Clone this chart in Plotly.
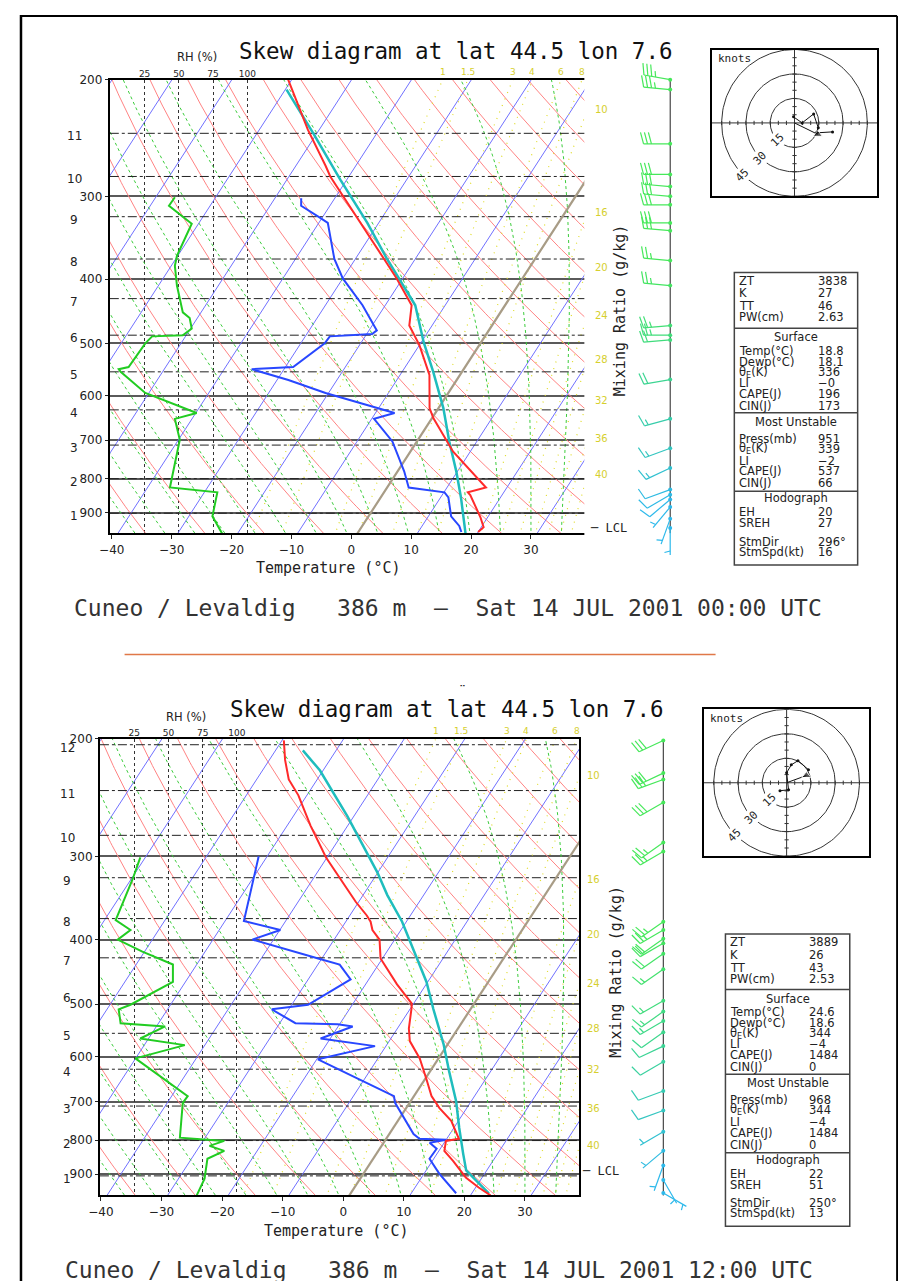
import numpy as np
import plotly.graph_objects as go

# The page body keeps its default 8 px margin, so the figure is drawn 8 px in from the corner.
OFF = 8
W, H = 906 - OFF, 1281 - OFF

# ---------------- text ----------------
TITLE = "Skew diagram at lat 44.5 lon 7.6"
FOOTER_00 = "Cuneo / Levaldig   386 m  –  Sat 14 JUL 2001 00:00 UTC"
FOOTER_12 = "Cuneo / Levaldig   386 m  –  Sat 14 JUL 2001 12:00 UTC"
X_TITLE = "Temperature (°C)"
MR_TITLE = "Mixing Ratio (g/kg)"
RH_TITLE = "RH (%)"

# ---------------- reference lines / ticks ----------------
P_TICKS = [200, 300, 400, 500, 600, 700, 800, 900]
T_TICKS = [-40, -30, -20, -10, 0, 10, 20, 30]
RH_TICKS = [25, 50, 75, 100]
MIX_RATIOS = [1, 1.5, 3, 4, 6, 8, 10, 16, 20, 24, 28, 32, 36, 40]
THETA_K = list(range(220, 481, 10))
THETA_W = list(range(-40, 41, 5))
ISOTHERMS = [t for t in range(-130, 41, 10) if t != 0]
HODO_RINGS = [15, 30, 45]

# ---------------- 00 UTC sounding ----------------
T_P_00 = [963, 947, 915, 847, 839, 825, 728, 648, 626, 558, 503, 470, 438, 399, 373, 324, 280, 270, 238, 200]
T_00 = [20.0, 20.4, 18.8, 14.7, 14.0, 16.5, 7.1, 0.2, -1.5, -5.1, -10.0, -13.8, -15.6, -21.0, -25.2, -34.0, -43.1, -45.0, -51.9, -60.6]
TD_P_00 = [963, 943, 912, 854, 839, 825, 780, 703, 650, 637, 594, 568, 547, 543, 500, 488, 484, 478, 438, 399, 373, 329, 323, 310, 302]
TD_00 = [17.2, 16.2, 13.8, 11.3, 10.1, 3.6, 1.1, -4.1, -9.6, -6.8, -20.5, -28.1, -35.4, -28.7, -26.0, -25.9, -19.1, -18.7, -23.8, -30.0, -33.5, -38.5, -40.4, -44.8, -45.6]
PC_P_00 = [969, 915, 854, 780, 703, 626, 552, 498, 438, 373, 329, 283, 241, 207]
PC_00 = [18.1, 16.0, 13.4, 9.8, 5.4, 0.8, -4.8, -9.6, -15.0, -24.7, -31.9, -41.1, -50.6, -59.8]
RH_P_00 = [969, 912, 839, 825, 699, 650, 637, 594, 552, 547, 543, 500, 488, 486, 475, 458, 449, 409, 382, 369, 330, 310, 301]
RH_00 = [81.7, 74.5, 78.1, 43.5, 50.7, 47.1, 63.0, 25.5, 7.5, 6.1, 13.3, 25.5, 30.5, 52.9, 59.4, 57.9, 52.9, 48.6, 47.1, 48.6, 59.4, 42.8, 47.1]
HEIGHT_P_00 = [902, 800, 712, 630, 552, 486, 428, 373, 322, 280, 241]
WIND_P_00 = [200, 207, 250, 278, 290, 300, 309, 329, 338, 375, 409, 470, 486, 494, 567, 650, 720, 771, 831, 846, 860, 883, 920, 950]
WIND_DIR_00 = [280, 275, 270, 270, 275, 275, 270, 270, 275, 275, 275, 265, 270, 265, 260, 255, 250, 245, 250, 240, 230, 220, 200, 180]
WIND_SPD_00 = [35, 35, 30, 30, 30, 30, 30, 30, 30, 25, 25, 25, 25, 20, 20, 15, 15, 15, 10, 10, 10, 5, 5, 5]
HODO_U_00 = [-0.6, 4.7, 11.8, 14.7, 13.5, 23.5]
HODO_V_00 = [3.7, 0.0, 5.5, -3.0, -6.1, -5.5]
STORM_00 = (296, 16)
LCL_P_00 = 950
STAT_VALUES_00 = ["3838", "27", "46", "2.63", None, "18.8", "18.1", "336", "−0", "196", "173", None,
                  "951", "339", "−2", "537", "66", None, "20", "27", "296°", "16"]

# ---------------- 12 UTC sounding ----------------
T_P_12 = [968, 942, 910, 859, 830, 802, 796, 748, 716, 687, 646, 603, 568, 544, 508, 499, 467, 436, 427, 400, 387, 376, 368, 351, 325, 301, 270, 243, 230, 215, 201]
T_12 = [23.3, 20.5, 17.3, 13.4, 10.9, 10.1, 12.0, 8.8, 5.5, 2.9, 0.1, -3.1, -6.6, -8.1, -9.8, -10.3, -14.8, -19.1, -20.3, -22.5, -24.7, -25.9, -27.2, -30.5, -35.4, -40.2, -46.1, -51.4, -54.7, -57.4, -59.7]
TD_P_12 = [961, 898, 853, 824, 807, 799, 796, 783, 703, 687, 605, 578, 563, 540, 536, 534, 509, 501, 459, 436, 427, 400, 387, 375, 309, 300]
TD_12 = [17.4, 12.5, 9.3, 9.4, 7.6, 10.0, 5.5, 4.0, -2.4, -3.3, -19.8, -11.8, -21.6, -17.6, -20.3, -27.4, -32.8, -27.3, -23.0, -26.4, -30.6, -43.5, -39.9, -46.9, -50.8, -51.4]
PC_P_12 = [961, 910, 888, 838, 767, 699, 630, 574, 508, 463, 436, 400, 376, 343, 317, 261, 223, 208]
PC_12 = [22.8, 18.5, 16.6, 14.3, 10.9, 7.5, 3.1, -0.7, -6.2, -10.2, -13.2, -17.5, -20.7, -26.0, -30.1, -41.1, -50.5, -55.5]
RH_P_12 = [969, 914, 853, 830, 816, 802, 793, 703, 687, 603, 576, 563, 540, 534, 509, 501, 463, 436, 417, 400, 387, 374, 325, 301]
RH_12 = [70.6, 76.4, 78.5, 90.8, 80.0, 90.8, 58.4, 60.5, 64.1, 25.9, 62.0, 29.5, 47.6, 15.1, 13.7, 22.3, 53.3, 53.3, 31.0, 13.0, 22.3, 11.5, 23.8, 29.5]
HEIGHT_P_12 = [905, 801, 711, 626, 553, 485, 426, 372, 323, 279, 239, 204]
WIND_P_12 = [201, 225, 230, 249, 286, 295, 376, 387, 399, 405, 420, 443, 494, 513, 530, 551, 578, 610, 675, 722, 777, 830, 873, 918, 960]
WIND_DIR_12 = [245, 245, 250, 240, 235, 240, 235, 240, 235, 240, 235, 235, 240, 235, 240, 235, 245, 240, 250, 250, 240, 230, 200, 150, 120]
WIND_SPD_12 = [30, 30, 30, 30, 25, 25, 25, 25, 20, 20, 20, 15, 15, 15, 15, 10, 10, 10, 10, 10, 5, 5, 5, 5, 5]
HODO_U_12 = [-4.1, 1.2, 0.0, 2.9, 7.0, 13.5]
HODO_V_12 = [-4.9, -4.3, 6.1, 11.0, 13.5, 8.0]
STORM_12 = (250, 13)
LCL_P_12 = 891
STAT_VALUES_12 = ["3889", "26", "43", "2.53", None, "24.6", "18.6", "344", "−4", "1484", "0", None,
                  "968", "344", "−4", "1484", "0", None, "22", "51", "250°", "13"]

STAT_LABELS = ["ZT", "K", "TT", "PW(cm)", "Surface", "Temp(°C)", "Dewp(°C)", "θ<sub>E</sub>(K)", "LI",
               "CAPE(J)", "CIN(J)", "Most Unstable", "Press(mb)", "θ<sub>E</sub>(K)", "LI", "CAPE(J)",
               "CIN(J)", "Hodograph", "EH", "SREH", "StmDir", "StmSpd(kt)"]

# ---------------- layout geometry (page pixels) ----------------
ROW_OFFSETS = [8, 21, 34, 45, 65, 79, 90, 100, 111, 122, 134, 150, 167, 177, 189, 200, 212, 227, 241, 252, 271, 281]
SEP_OFFSETS = [56, 141, 220]
BOX_H = 294
K_SKEW = 31.1
HODO_SCALE = 1.64  # px per knot

PANELS = [
    dict(left=99, right=583, top=73, bottom=529, x40=101, ppd=6.07, ppl=289.4, rh0=99.6, rhs=1.388,
         barb_x=667, hodo=(709, 43, 877, 190), box=(732, 267, 857), title=(449, 44), footer=(442, 604),
         xlabel=(321, 564), mrlabel=(617, 305), rhlabel=(187, 50), hlab_x=63),
    dict(left=89, right=575, top=736, bottom=1195, x40=90, ppd=6.14, ppl=291.0, rh0=89, rhs=1.388,
         barb_x=660, hodo=(701, 706, 869, 854), box=(723, 932, 849), title=(440, 706), footer=(433, 1270),
         xlabel=(329, 1231), mrlabel=(612, 970), rhlabel=(176, 714), hlab_x=56),
]
SOUNDINGS = [
    dict(tp=T_P_00, t=T_00, dp=TD_P_00, td=TD_00, pp=PC_P_00, pc=PC_00, rp=RH_P_00, rh=RH_00,
         hp=HEIGHT_P_00, wp=WIND_P_00, wd=WIND_DIR_00, ws=WIND_SPD_00, hu=HODO_U_00, hv=HODO_V_00,
         storm=STORM_00, lcl=LCL_P_00, stats=STAT_VALUES_00, footer=FOOTER_00),
    dict(tp=T_P_12, t=T_12, dp=TD_P_12, td=TD_12, pp=PC_P_12, pc=PC_12, rp=RH_P_12, rh=RH_12,
         hp=HEIGHT_P_12, wp=WIND_P_12, wd=WIND_DIR_12, ws=WIND_SPD_12, hu=HODO_U_12, hv=HODO_V_12,
         storm=STORM_12, lcl=LCL_P_12, stats=STAT_VALUES_12, footer=FOOTER_12),
]

MONO = "DejaVu Sans Mono"
SANS = "DejaVu Sans"


def pxx(x):
    return (x - OFF) / W


def pyy(y):
    return 1 - (y - OFF) / H


def skew(T, p):
    return np.asarray(T, float) + K_SKEW * np.log(1000.0 / np.asarray(p, float))


def sat_vp(tc):
    return 6.112 * np.exp(17.67 * tc / (tc + 243.5))


def dTdp(T, p):
    Rd, Cp, Lv, eps = 287.04, 1005.7, 2.501e6, 0.622
    es = sat_vp(T - 273.15)
    rs = eps * es / (p - es)
    return (Rd * T + Lv * rs) / (Cp + Lv * Lv * rs * eps / (Rd * T * T)) / p


def moist_adiabat(tw, pp):
    T = tw + 273.15
    out = [T]
    for i in range(1, len(pp)):
        p0 = pp[i - 1]
        h = pp[i] - p0
        k1 = dTdp(T, p0)
        k2 = dTdp(T + 0.5 * h * k1, p0 + 0.5 * h)
        k3 = dTdp(T + 0.5 * h * k2, p0 + 0.5 * h)
        k4 = dTdp(T + h * k3, p0 + h)
        T = T + h * (k1 + 2 * k2 + 2 * k3 + k4) / 6
        out.append(T)
    return np.array(out) - 273.15


def mix_T(w, p):
    e = w * np.asarray(p, float) / (622.0 + w)
    l = np.log(e / 6.112)
    return 243.5 * l / (17.67 - l)


def barb_color(p):
    f = float(np.clip((p - 380) / 480.0, 0, 1))
    c0 = np.array([70, 232, 90])
    c1 = np.array([45, 185, 235])
    c = (c0 + f * (c1 - c0)).astype(int)
    return "rgb(%d,%d,%d)" % tuple(c)


def barb_xy(bx, by, d, s, L=27.0, FL=12.0, SP=4.0, ang=75.0):
    th = np.deg2rad(d)
    ux, uy = np.sin(th), np.cos(th)
    a = np.deg2rad(ang)
    fx = ux * np.cos(a) + uy * np.sin(a)
    fy = -ux * np.sin(a) + uy * np.cos(a)
    X = [bx, bx + L * ux, None]
    Y = [by, by + L * uy, None]
    s5 = int(round(s / 5.0)) * 5
    n10 = s5 // 10
    n5 = (s5 % 10) // 5
    pos = L
    for _ in range(n10):
        sx, sy = bx + pos * ux, by + pos * uy
        X += [sx, sx + FL * fx, None]
        Y += [sy, sy + FL * fy, None]
        pos -= SP
    if n5:
        if n10 == 0:
            pos -= SP
        sx, sy = bx + pos * ux, by + pos * uy
        X += [sx, sx + 0.5 * FL * fx, None]
        Y += [sy, sy + 0.5 * FL * fy, None]
    return X, Y


def axname(prefix, k):
    return prefix + ("" if k == 1 else str(k))


def axkey(prefix, k):
    return prefix + "axis" + ("" if k == 1 else str(k))


fig = go.Figure()
ann = []
shp = []
lay = {}
P_LINE = np.geomspace(1000, 185, 160)
P_MOIST = np.linspace(1000, 185, 164)


def txt(x, y, s, size, family=MONO, color="#111", angle=0, xa="center"):
    ann.append(dict(x=pxx(x), y=pyy(y), xref="paper", yref="paper", text=s, showarrow=False,
                    xanchor=xa, yanchor="middle", textangle=angle,
                    font=dict(family=family, size=size, color=color)))


for i, (g, d) in enumerate(zip(PANELS, SOUNDINGS)):
    n = 1 + 4 * i
    xs, ys = axname("x", n), axname("y", n)
    pbot = 200 * np.exp((g["bottom"] - g["top"]) / g["ppl"])
    xmin = (g["left"] - g["x40"]) / g["ppd"] - 40
    xmax = (g["right"] - g["x40"]) / g["ppd"] - 40

    def fam(lines, style, xs=xs, ys=ys):
        X, Y = [], []
        for x, p in lines:
            X += list(x) + [None]
            Y += list(p) + [None]
        fig.add_trace(go.Scatter(x=X, y=Y, mode="lines", line=style, xaxis=xs, yaxis=ys,
                                 hoverinfo="skip", showlegend=False))

    # dry adiabats
    fam([(skew(th * (P_LINE / 1000.0) ** 0.2857 - 273.15, P_LINE), P_LINE) for th in THETA_K],
        dict(color="#ff8383", width=1))
    # isotherms
    fam([(skew(np.full_like(P_LINE, t), P_LINE), P_LINE) for t in ISOTHERMS],
        dict(color="#7070ff", width=1))
    # moist adiabats
    fam([(skew(moist_adiabat(tw, P_MOIST), P_MOIST), P_MOIST) for tw in THETA_W],
        dict(color="#3ccc3c", width=1, dash="3px,3px"))
    # mixing ratio lines
    fam([(skew(mix_T(w, P_LINE), P_LINE), P_LINE) for w in MIX_RATIOS],
        dict(color="#e0dc2a", width=1.2, dash="1px,6px"))
    # height (km) lines
    fam([([xmin, xmax], [p, p]) for p in d["hp"]], dict(color="#222", width=1, dash="dashdot"))
    # 0 C isotherm
    fam([(skew(np.zeros_like(P_LINE), P_LINE), P_LINE)], dict(color="#a89c86", width=2.2))

    # RH profile on overlay axis
    fig.add_trace(go.Scatter(x=d["rh"], y=d["rp"], mode="lines", line=dict(color="#22cc22", width=2),
                             xaxis=axname("x", n + 1), yaxis=ys, hoverinfo="skip"))
    # dewpoint, parcel, temperature
    fig.add_trace(go.Scatter(x=skew(d["td"], d["dp"]), y=d["dp"], mode="lines",
                             line=dict(color="#2847ff", width=2), xaxis=xs, yaxis=ys, hoverinfo="skip"))
    fig.add_trace(go.Scatter(x=skew(d["pc"], d["pp"]), y=d["pp"], mode="lines",
                             line=dict(color="#1fbdbd", width=2.5), xaxis=xs, yaxis=ys, hoverinfo="skip"))
    fig.add_trace(go.Scatter(x=skew(d["t"], d["tp"]), y=d["tp"], mode="lines",
                             line=dict(color="#ff2a2a", width=2), xaxis=xs, yaxis=ys, hoverinfo="skip"))

    tfont = dict(family=SANS, size=12, color="#222")
    lay[axkey("x", n)] = dict(domain=[pxx(g["left"]), pxx(g["right"])], range=[xmin, xmax], anchor=ys,
                              tickvals=T_TICKS, ticks="outside", ticklen=4, tickcolor="#222",
                              showline=True, mirror=True, linecolor="black", linewidth=2,
                              showgrid=False, zeroline=False, tickfont=tfont)
    lay[axkey("y", n)] = dict(domain=[pyy(g["bottom"]), pyy(g["top"])], type="log",
                              range=[np.log10(pbot), np.log10(200)], anchor=xs,
                              tickvals=P_TICKS, ticktext=[str(v) for v in P_TICKS], ticks="outside",
                              ticklen=3, tickcolor="#222", showline=True, mirror=True, linecolor="black",
                              linewidth=2, showgrid=True, gridcolor="#5a5a5a", gridwidth=1.5,
                              zeroline=False, tickfont=tfont)
    rh_min = (g["left"] - g["rh0"]) / g["rhs"]
    rh_max = (g["right"] - g["rh0"]) / g["rhs"]
    lay[axkey("x", n + 1)] = dict(overlaying=xs, anchor=ys, side="top", range=[rh_min, rh_max],
                                  tickvals=RH_TICKS, ticks="", showgrid=True, gridcolor="#333",
                                  griddash="dot", gridwidth=1, showline=False, zeroline=False,
                                  tickfont=dict(family=SANS, size=9, color="#222"))

    # mixing ratio labels
    for w in MIX_RATIOS:
        xtop = float(skew(mix_T(w, 200.0), 200.0))
        if xtop <= xmax:
            ann.append(dict(x=xtop, y=pyy(g["top"] - 8), xref=xs, yref="paper", text=str(w),
                            showarrow=False, font=dict(family=SANS, size=9, color="#d6cf2e"),
                            xanchor="center", yanchor="middle"))
        else:
            lo, hi = 200.0, 1100.0
            for _ in range(60):
                mid = 0.5 * (lo + hi)
                if float(skew(mix_T(w, mid), mid)) > xmax:
                    lo = mid
                else:
                    hi = mid
            ann.append(dict(x=pxx(g["right"] + 6), y=np.log10(0.5 * (lo + hi)), xref="paper", yref=ys,
                            text=str(w), showarrow=False, xanchor="left", yanchor="middle",
                            font=dict(family=SANS, size=10, color="#d6cf2e")))

    # height labels (km)
    for km, p in enumerate(d["hp"], start=1):
        ann.append(dict(x=pxx(g["hlab_x"]), y=np.log10(p), xref="paper", yref=ys, text=str(km),
                        showarrow=False, xanchor="center", yanchor="middle", yshift=-3,
                        font=dict(family=SANS, size=12, color="#222")))
    # LCL
    ann.append(dict(x=pxx(g["right"] + 1), y=np.log10(d["lcl"]), xref="paper", yref=ys, text="─ LCL",
                    showarrow=False, xanchor="left", yanchor="middle",
                    font=dict(family=MONO, size=12, color="#222")))

    txt(g["title"][0], g["title"][1], TITLE, 22.5)
    txt(g["footer"][0], g["footer"][1], d["footer"], 23, color="#333")
    txt(g["xlabel"][0], g["xlabel"][1], X_TITLE, 15, color="#222")
    txt(g["mrlabel"][0], g["mrlabel"][1], MR_TITLE, 15, color="#222", angle=-90)
    txt(g["rhlabel"][0], g["rhlabel"][1], RH_TITLE, 11.5, family=SANS, color="#222")

    # ---- wind barbs ----
    xw, yw = axname("x", n + 2), axname("y", n + 2)
    wy0, wy1 = g["top"] - 25, g["bottom"] + 45
    lay[axkey("x", n + 2)] = dict(domain=[pxx(580), pxx(700)], range=[580, 700], visible=False, anchor=yw)
    lay[axkey("y", n + 2)] = dict(domain=[pyy(wy1), pyy(wy0)], range=[-wy1, -wy0], visible=False, anchor=xw)

    def ybar(p, g=g):
        return -(g["top"] + g["ppl"] * np.log(p / 200.0))

    fig.add_trace(go.Scatter(x=[g["barb_x"], g["barb_x"]], y=[ybar(200.0), ybar(pbot)], mode="lines",
                             line=dict(color="#222", width=1), xaxis=xw, yaxis=yw, hoverinfo="skip"))
    for p, dd, ss in zip(d["wp"], d["wd"], d["ws"]):
        X, Y = barb_xy(g["barb_x"], ybar(p), dd, ss)
        col = barb_color(p)
        fig.add_trace(go.Scatter(x=X, y=Y, mode="lines", line=dict(color=col, width=1.2),
                                 xaxis=xw, yaxis=yw, hoverinfo="skip"))
        fig.add_trace(go.Scatter(x=[g["barb_x"]], y=[ybar(p)], mode="markers",
                                 marker=dict(color=col, size=4), xaxis=xw, yaxis=yw, hoverinfo="skip"))

    # ---- hodograph ----
    xh, yh = axname("x", n + 3), axname("y", n + 3)
    hx0, hy0, hx1, hy1 = g["hodo"]
    RX = (hx1 - hx0) / 2.0 / HODO_SCALE
    RY = (hy1 - hy0) / 2.0 / HODO_SCALE
    lay[axkey("x", n + 3)] = dict(domain=[pxx(hx0), pxx(hx1)], range=[-RX, RX], anchor=yh,
                                  showline=True, mirror=True, linecolor="black", linewidth=2,
                                  showticklabels=False, ticks="", showgrid=False, zeroline=False)
    lay[axkey("y", n + 3)] = dict(domain=[pyy(hy1), pyy(hy0)], range=[-RY, RY], anchor=xh,
                                  showline=True, mirror=True, linecolor="black", linewidth=2,
                                  showticklabels=False, ticks="", showgrid=False, zeroline=False)
    th = np.linspace(0, 2 * np.pi, 181)
    X, Y = [], []
    for r in HODO_RINGS:
        X += list(r * np.cos(th)) + [None]
        Y += list(r * np.sin(th)) + [None]
    X += [-RX, RX, None, 0, 0, None]
    Y += [0, 0, None, -RY, RY, None]
    for t in range(-45, 50, 5):
        if t == 0:
            continue
        X += [t, t, None, -1.3, 1.3, None]
        Y += [-1.3, 1.3, None, t, t, None]
    fig.add_trace(go.Scatter(x=X, y=Y, mode="lines", line=dict(color="#333", width=1),
                             xaxis=xh, yaxis=yh, hoverinfo="skip"))
    fig.add_trace(go.Scatter(x=d["hu"], y=d["hv"], mode="lines+markers", line=dict(color="#111", width=1),
                             marker=dict(size=3, color="#111"), xaxis=xh, yaxis=yh, hoverinfo="skip"))
    sd, sspd = d["storm"]
    su = sspd * np.sin(np.deg2rad(sd + 180))
    sv = sspd * np.cos(np.deg2rad(sd + 180))
    fig.add_trace(go.Scatter(x=[0, su], y=[0, sv], mode="lines+markers",
                             line=dict(color="#111", width=1),
                             marker=dict(size=[0, 8], symbol="triangle-up", color="#111"),
                             xaxis=xh, yaxis=yh, hoverinfo="skip"))
    for r in HODO_RINGS:
        ann.append(dict(x=-0.72 * r, y=-0.72 * r, xref=xh, yref=yh, text=str(r), showarrow=False,
                        textangle=-45, font=dict(family=MONO, size=11, color="#222"),
                        bgcolor="white"))
    ann.append(dict(x=pxx(hx0 + 4), y=pyy(hy0 + 9), xref="paper", yref="paper", text="knots",
                    showarrow=False, xanchor="left", yanchor="middle",
                    font=dict(family=MONO, size=11, color="#222")))

    # ---- statistics box ----
    bx0, by0, bx1 = g["box"]
    shp.append(dict(type="rect", xref="paper", yref="paper", x0=pxx(bx0), x1=pxx(bx1),
                    y0=pyy(by0 + BOX_H), y1=pyy(by0), line=dict(color="#444", width=1.5)))
    for so in SEP_OFFSETS:
        shp.append(dict(type="line", xref="paper", yref="paper", x0=pxx(bx0), x1=pxx(bx1),
                        y0=pyy(by0 + so), y1=pyy(by0 + so), line=dict(color="#444", width=1.5)))
    for lab, val, off in zip(STAT_LABELS, d["stats"], ROW_OFFSETS):
        if val is None:
            txt((bx0 + bx1) / 2.0, by0 + off, lab, 11.5, family=SANS, color="#222")
        else:
            txt(bx0 + 3, by0 + off, lab, 11.5, family=SANS, color="#222", xa="left")
            txt(bx0 + 83, by0 + off, val, 11.5, family=SANS, color="#222", xa="left")

# stray mark above second title, separator and frame
txt(456, 688, "¨", 14, family=SANS, color="#222")
shp.append(dict(type="line", xref="paper", yref="paper", x0=pxx(114), x1=pxx(713), y0=pyy(651),
                y1=pyy(651), line=dict(color="#e07848", width=1.5)))
shp.append(dict(type="line", xref="paper", yref="paper", x0=pxx(9), x1=pxx(9), y0=0, y1=1,
                line=dict(color="black", width=2.5)))
shp.append(dict(type="line", xref="paper", yref="paper", x0=pxx(9), x1=pxx(897), y0=pyy(9), y1=pyy(9),
                line=dict(color="black", width=2)))
shp.append(dict(type="line", xref="paper", yref="paper", x0=pxx(897), x1=pxx(897), y0=0, y1=pyy(9),
                line=dict(color="black", width=2)))

fig.update_layout(width=W, height=H, autosize=False, margin=dict(l=0, r=0, t=0, b=0),
                  paper_bgcolor="white", plot_bgcolor="white", showlegend=False,
                  annotations=ann, shapes=shp, **lay)

fig.write_html("out.html", include_plotlyjs=True, config={"displayModeBar": False})
